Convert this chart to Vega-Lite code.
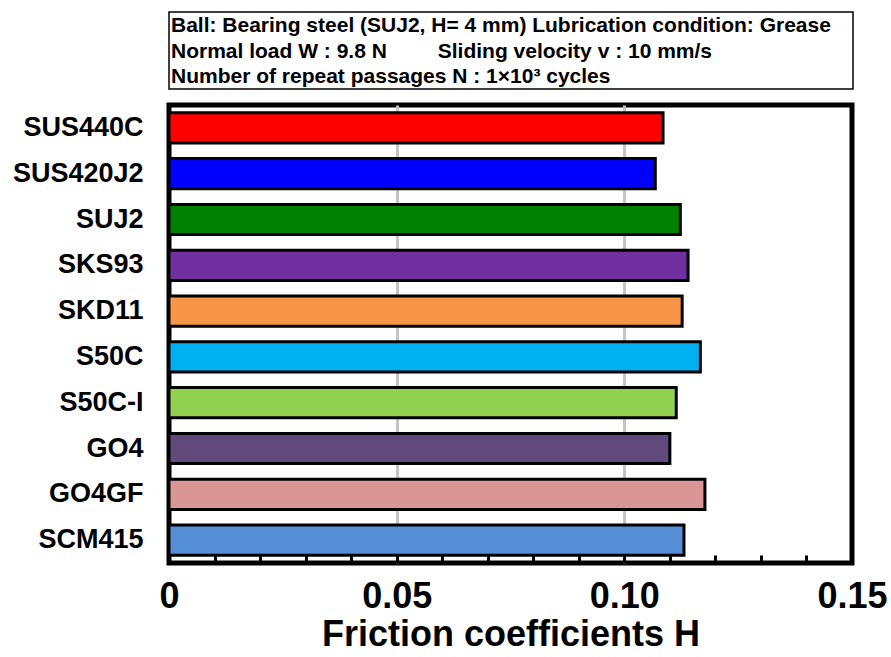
{
  "$schema": "https://vega.github.io/schema/vega-lite/v6.json",
  "padding": {"left": 9, "top": 11, "right": 0, "bottom": 0},
  "background": "white",
  "spacing": 12,
  "config": {"font": "Liberation Sans"},
  "vconcat": [
    {
      "width": 684,
      "height": 77,
      "view": {"stroke": "black", "strokeWidth": 1.5},
      "data": {"values": [
        {"line": 1, "pos": 0, "text": "Ball: Bearing steel (SUJ2, H= 4 mm)  Lubrication condition: Grease"},
        {"line": 2, "pos": 0, "text": "Normal load W : 9.8 N"},
        {"line": 2, "pos": 0.39, "text": "Sliding velocity v : 10 mm/s"},
        {"line": 3, "pos": 0, "text": "Number of repeat passages N  : 1×10³ cycles"}
      ]},
      "mark": {"type": "text", "align": "left", "baseline": "middle", "fontSize": 21, "fontWeight": "bold", "dx": 2, "dy": 1, "color": "black"},
      "encoding": {
        "x": {"field": "pos", "type": "quantitative", "scale": {"domain": [0, 1]}, "axis": null},
        "y": {"field": "line", "type": "ordinal", "scale": {"type": "point", "padding": 0.5}, "axis": null},
        "text": {"field": "text"}
      }
    },
    {
      "width": 683,
      "height": 458,
      "view": {"stroke": "black", "strokeWidth": 5},
      "data": {"values": [
        {"steel": "SUS440C", "mu": 0.1085},
        {"steel": "SUS420J2", "mu": 0.1068},
        {"steel": "SUJ2", "mu": 0.1123},
        {"steel": "SKS93", "mu": 0.1140},
        {"steel": "SKD11", "mu": 0.1127},
        {"steel": "S50C", "mu": 0.1167},
        {"steel": "S50C-I", "mu": 0.1114},
        {"steel": "GO4", "mu": 0.1100},
        {"steel": "GO4GF", "mu": 0.1177},
        {"steel": "SCM415", "mu": 0.1131}
      ]},
      "mark": {"type": "bar", "stroke": "black", "strokeWidth": 3},
      "encoding": {
        "y": {
          "field": "steel", "type": "nominal", "sort": null,
          "scale": {"paddingInner": 0.34, "paddingOuter": 0.17},
          "axis": {
            "title": null, "ticks": false, "domain": false,
            "labelFontSize": 27, "labelFontWeight": "bold", "labelColor": "black",
            "labelPadding": 26
          }
        },
        "x": {
          "field": "mu", "type": "quantitative",
          "scale": {"domain": [0, 0.15], "nice": false},
          "axis": {
            "values": [0, 0.01, 0.02, 0.03, 0.04, 0.05, 0.06, 0.07, 0.08, 0.09, 0.1, 0.11, 0.12, 0.13, 0.14, 0.15],
            "labelExpr": "round(datum.value*100) % 5 == 0 ? (datum.value == 0 ? '0' : format(datum.value, '.2f')) : ''",
            "labelFlush": false, "labelOverlap": false,
            "labelFontSize": 36, "labelFontWeight": "bold", "labelColor": "black",
            "labelPadding": 24,
            "domain": false,
            "tickSize": -8, "tickWidth": 3, "tickColor": "black",
            "grid": true, "gridColor": "#c4c4c4", "gridWidth": 3,
            "gridOpacity": {"condition": {"test": "round(datum.value*100) == 5 || round(datum.value*100) == 10", "value": 1}, "value": 0},
            "title": "Friction coefficients H",
            "titleFontSize": 36, "titleFontWeight": "bold", "titleColor": "black",
            "titlePadding": 3
          }
        },
        "color": {
          "field": "steel", "type": "nominal", "sort": null,
          "scale": {
            "domain": ["SUS440C", "SUS420J2", "SUJ2", "SKS93", "SKD11", "S50C", "S50C-I", "GO4", "GO4GF", "SCM415"],
            "range": ["#ff0000", "#0000ff", "#008000", "#7030a0", "#f79646", "#00b0f0", "#92d050", "#604a7b", "#d99694", "#558ed5"]
          },
          "legend": null
        }
      }
    }
  ]
}
